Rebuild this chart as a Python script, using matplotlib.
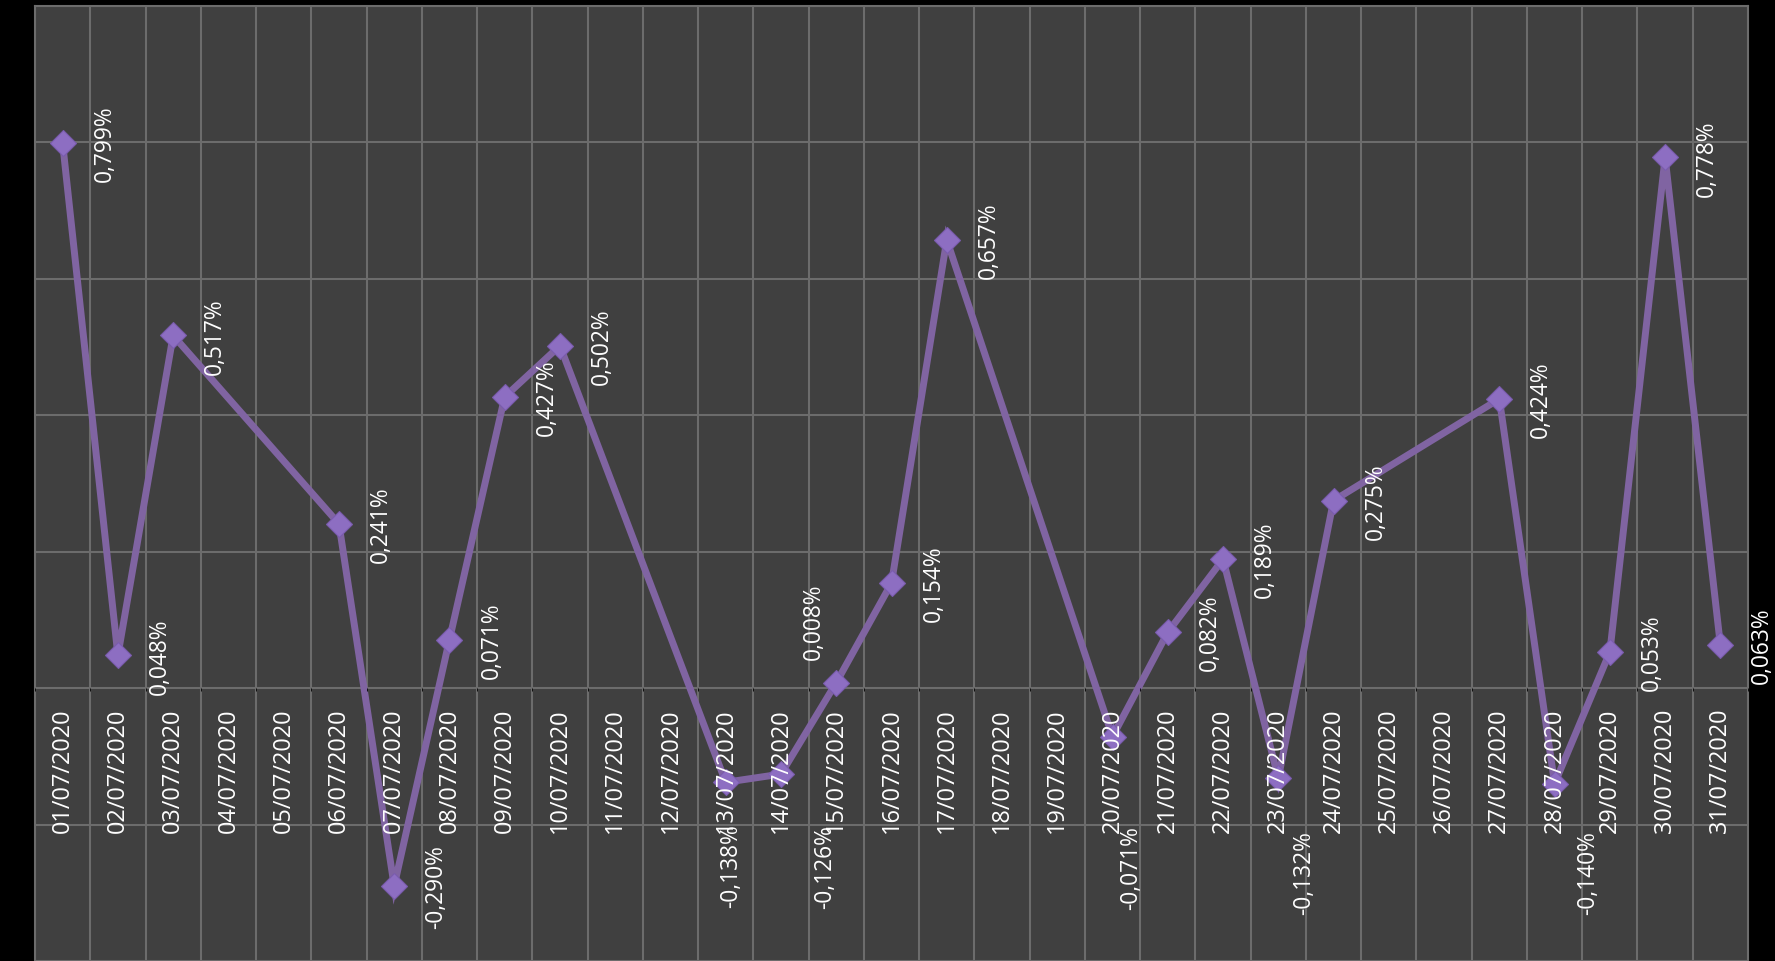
import matplotlib
matplotlib.use("Agg")
import matplotlib.pyplot as plt
from matplotlib.ticker import MultipleLocator, FixedLocator
import numpy as np

# ---------------- data ----------------
dates = [f"{d:02d}/07/2020" for d in range(1, 32)]
values = [0.799, 0.048, 0.517, None, None, 0.241, -0.290, 0.071, 0.427, 0.502,
          None, None, -0.138, -0.126, 0.008, 0.154, 0.657, None, None, -0.071,
          0.082, 0.189, -0.132, 0.275, None, None, 0.424, -0.140, 0.053, 0.778,
          0.063]

# ---------------- layout / style ----------------
W, H, DPI = 1775, 962, 100
BG_OUT = "#000000"
BG_PLOT = "#404040"
GRID = "#6c6c6c"
LINE = "#8064A2"
MARK = "#8D6EC2"
FONT = ["Open Sans", "DejaVu Sans"]

# label offsets in pixels (dx right, dy up); default: to the right of the point
default_off = (42, 0)
label_off = {
    "13/07/2020": (5, -83),
    "14/07/2020": (44, -92),
    "15/07/2020": (-22, 62),
    "20/07/2020": (19, -130),
    "23/07/2020": (26, -94),
    "28/07/2020": (34, -88),
}

plt.rcParams["font.family"] = FONT

fig = plt.figure(figsize=(W / DPI, H / DPI), dpi=DPI, facecolor=BG_OUT)
pos = [35 / W, 0, (1748 - 35) / W, 955 / H]
ax = fig.add_axes(pos)
ax.set_facecolor(BG_PLOT)

n = len(dates)
xs = [i for i, v in enumerate(values) if v is not None]
ys = [v for v in values if v is not None]

ax.plot(xs, ys, color=LINE, lw=5, solid_joinstyle="miter", zorder=2)
ax.plot(xs, ys, ls="none", marker="D", markersize=13, markerfacecolor=MARK,
        markeredgecolor="#7a5cae", markeredgewidth=0.8, zorder=2.2)

ax.set_xlim(-0.5, n - 0.5)
ax.set_ylim(-0.4, 1.0)

# grid
ax.yaxis.set_major_locator(MultipleLocator(0.2))
ax.xaxis.set_major_locator(FixedLocator(list(range(n))))
ax.xaxis.set_minor_locator(FixedLocator([i - 0.5 for i in range(n + 1)]))
ax.grid(True, which="major", axis="y", color=GRID, lw=1.5, zorder=0)
ax.grid(True, which="minor", axis="x", color=GRID, lw=1.5, zorder=0)
ax.set_axisbelow(True)
ax.tick_params(which="both", length=0, labelbottom=False, labelleft=False)
for s in ("left", "top", "right"):
    ax.spines[s].set_color(GRID)
    ax.spines[s].set_linewidth(1.5)
ax.spines["bottom"].set_visible(False)

# data labels
for i, v in enumerate(values):
    if v is None:
        continue
    dx, dy = label_off.get(dates[i], default_off)
    txt = f"{v:.3f}".replace(".", ",") + "%"
    ax.annotate(txt, xy=(i, v), xytext=(dx, dy), textcoords="offset pixels",
                rotation=90, ha="center", va="center", color="white",
                fontsize=16.4, annotation_clip=False, zorder=4)

# overlay axes for category labels (drawn above the line)
ax2 = fig.add_axes(pos, sharex=ax, sharey=ax)
ax2.patch.set_visible(False)
for s in ("left", "top", "right"):
    ax2.spines[s].set_visible(False)
ax2.spines["bottom"].set_position(("data", 0))
ax2.spines["bottom"].set_color("none")
ax2.set_xticks(range(n))
ax2.set_xticklabels(dates, rotation=90, color="white", fontsize=16.9)
ax2.tick_params(axis="x", length=0, pad=13.7)
ax2.tick_params(axis="y", left=False, labelleft=False)
ax2.grid(False)

fig.savefig("out.png", dpi=DPI, facecolor=BG_OUT)
